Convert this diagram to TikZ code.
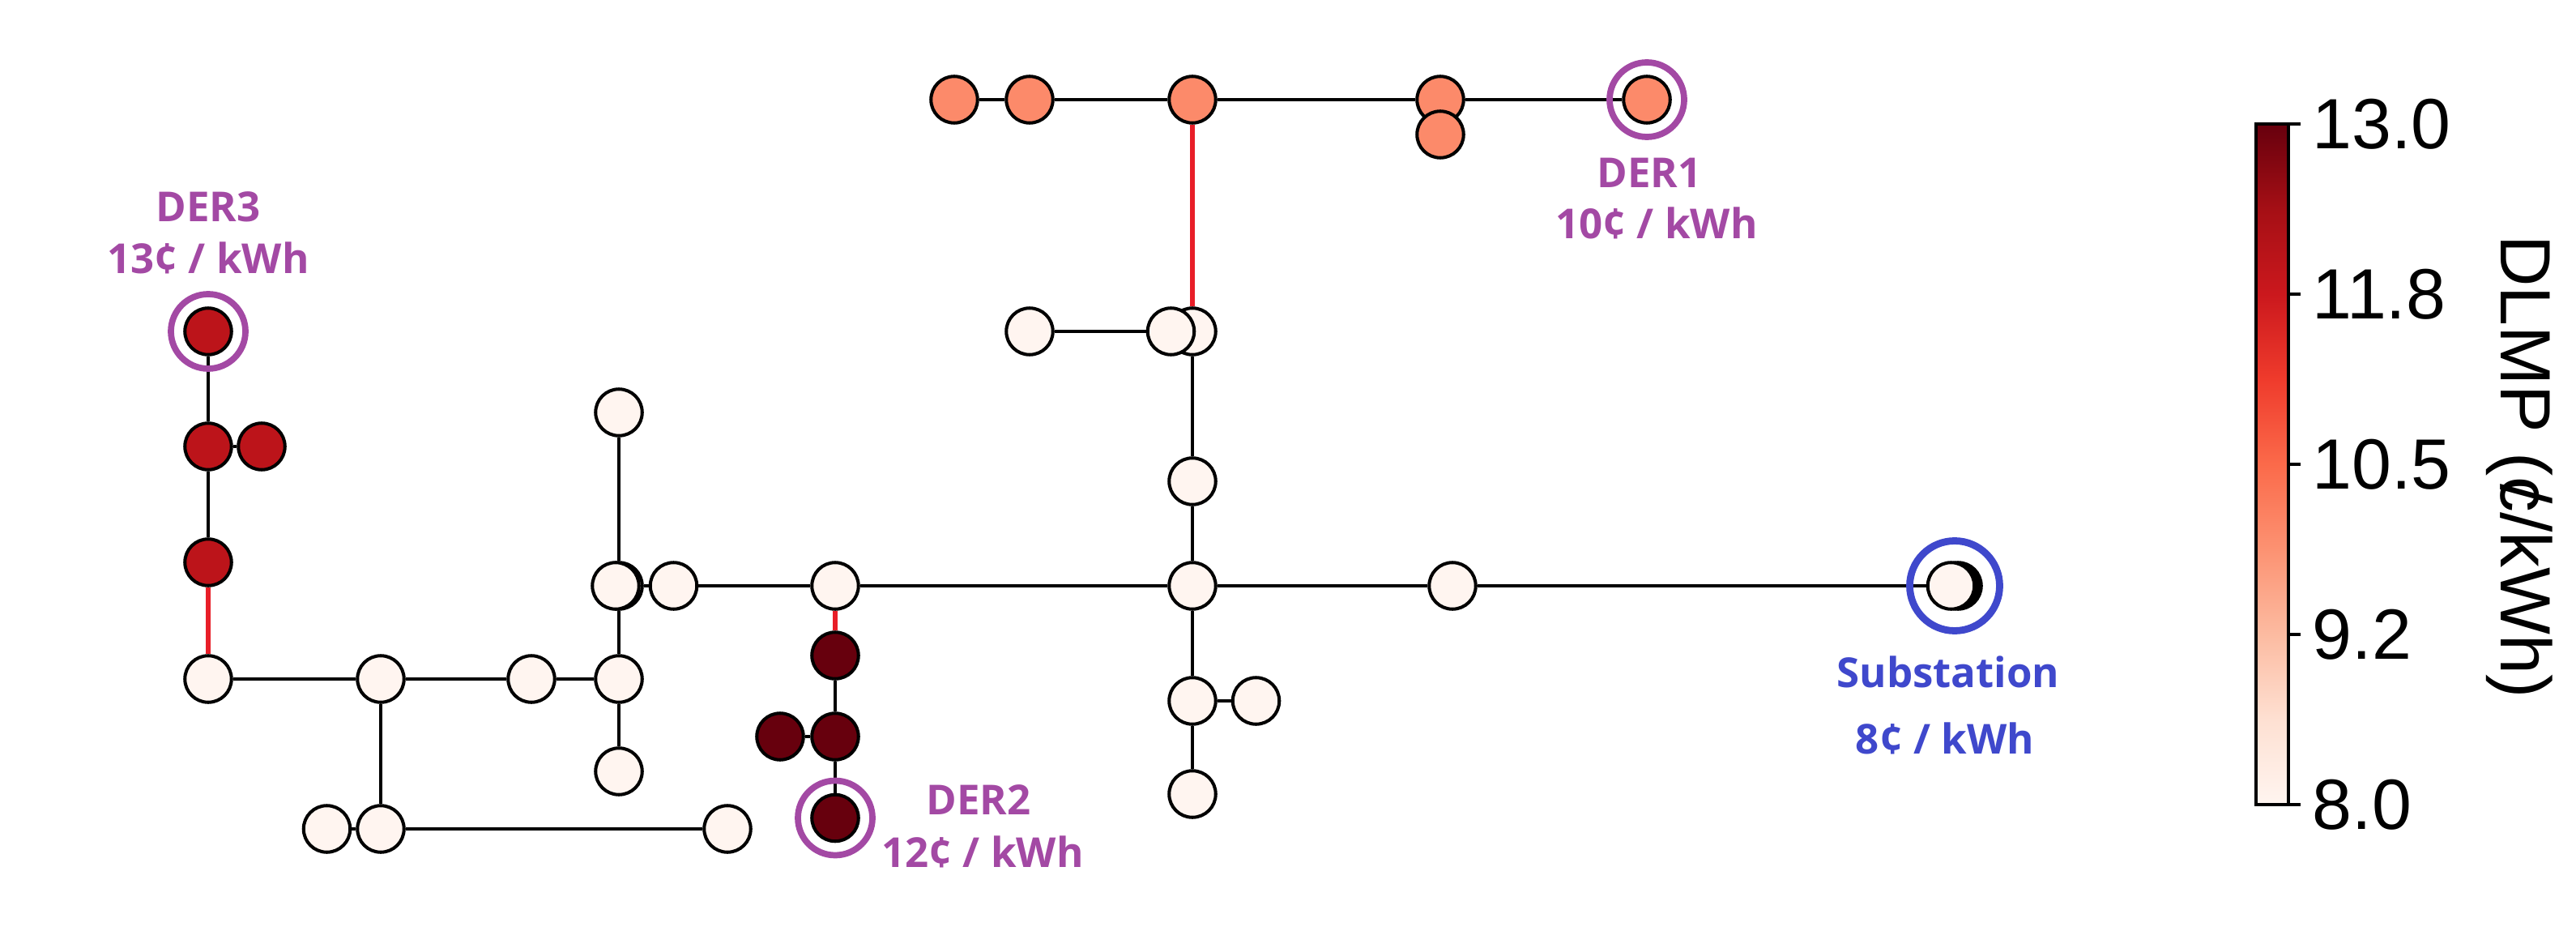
\documentclass[tikz,border=0pt]{standalone}
\usepackage{fontspec}
\setmainfont{Liberation Sans}
\newfontfamily\derfont{Open Sans}
\usetikzlibrary{backgrounds}
\usepackage{xcolor}

\definecolor{preco8}{RGB}{255,245,240}
\definecolor{preco10}{RGB}{252,138,106}
\definecolor{preco12}{RGB}{103,0,13}
\definecolor{preco13}{RGB}{188,20,26}
\definecolor{congest}{RGB}{232,30,40}
\definecolor{derroxo}{RGB}{163,73,164}
\definecolor{subazul}{RGB}{63,72,204}

% Reds colormap
\definecolor{reds0}{RGB}{255,245,240}
\definecolor{reds1}{RGB}{254,224,210}
\definecolor{reds2}{RGB}{252,187,161}
\definecolor{reds3}{RGB}{252,146,114}
\definecolor{reds4}{RGB}{251,106,74}
\definecolor{reds5}{RGB}{239,59,44}
\definecolor{reds6}{RGB}{203,24,29}
\definecolor{reds7}{RGB}{165,15,21}
\definecolor{reds8}{RGB}{103,0,13}
\pgfdeclareverticalshading{redsbar}{100bp}{
    color(0bp)=(reds0); color(25bp)=(reds0);
    color(31.25bp)=(reds1); color(37.5bp)=(reds2);
    color(43.75bp)=(reds3); color(50bp)=(reds4);
    color(56.25bp)=(reds5); color(62.5bp)=(reds6);
    color(68.75bp)=(reds7); color(75bp)=(reds8);
    color(100bp)=(reds8)}

\begin{document}
\begin{tikzpicture}[
    bus/.style={
        circle,
        draw=black,
        line width=1.15pt,
        inner sep=0pt,
        minimum size=0.575cm
    },
    linha/.style={
        draw=black,
        line width=1.15pt
    },
    congestionada/.style={
        draw=congest,
        line width=1.9pt
    },
    anel/.style={
        circle,
        draw=derroxo,
        line width=2.2pt,
        inner sep=0pt,
        minimum size=0.92cm
    },
    derlabel/.style={
        anchor=base,
        inner sep=0pt,
        text=derroxo,
        font=\derfont\bfseries\fontsize{14.5}{17}\selectfont
    },
    escala/.style={
        anchor=west,
        inner sep=0pt,
        font=\fontsize{25}{30}\selectfont
    }
]

\useasboundingbox (0,0) rectangle (31.8,11.48);

% ============================================================
% RAMO SUPERIOR (DER1)
% ============================================================

\node[bus, fill=preco10] (t1) at (11.78,10.25) {};
\node[bus, fill=preco10] (t2) at (12.71,10.25) {};
\node[bus, fill=preco10] (t3) at (14.72,10.25) {};
\node[bus, fill=preco10] (t4) at (17.78,10.25) {};
\node[bus, fill=preco10] (t4b) at (17.78,9.82) {};
\node[bus, fill=preco10] (der1) at (20.33,10.25) {};

\node[bus, fill=preco8] (m0) at (12.71,7.39) {};
\node[bus, fill=preco8] (m2) at (14.72,7.39) {};
\node[bus, fill=preco8] (m1) at (14.455,7.39) {};

\node[bus, fill=preco8] (v1) at (14.72,5.54) {};
\node[bus, fill=preco8] (v2) at (14.72,4.25) {};
\node[bus, fill=preco8] (v3) at (14.72,2.83) {};
\node[bus, fill=preco8] (v3b) at (15.505,2.83) {};
\node[bus, fill=preco8] (v4) at (14.72,1.68) {};

% ============================================================
% ALIMENTADOR PRINCIPAL
% ============================================================

\node[bus, fill=preco8] (a1b) at (7.64,4.25) {};
\node[bus, fill=preco8] (a1) at (7.60,4.25) {};
\node[bus, fill=preco8] (a2) at (8.315,4.25) {};
\node[bus, fill=preco8] (a3) at (10.31,4.25) {};
\node[bus, fill=preco8] (a4) at (17.93,4.25) {};
\node[bus, fill=black] (subb) at (24.17,4.25) {};
\node[bus, fill=preco8] (sub) at (24.085,4.25) {};

\node[bus, fill=preco8] (b0) at (7.64,6.39) {};
\node[bus, fill=preco8] (b1) at (7.64,3.10) {};
\node[bus, fill=preco8] (b2) at (7.64,1.96) {};

\node[bus, fill=preco8] (c1) at (2.57,3.10) {};
\node[bus, fill=preco8] (c2) at (4.70,3.10) {};
\node[bus, fill=preco8] (c3) at (6.56,3.10) {};

\node[bus, fill=preco8] (d1) at (4.035,1.25) {};
\node[bus, fill=preco8] (d2) at (4.70,1.25) {};
\node[bus, fill=preco8] (d3) at (8.98,1.25) {};

% ============================================================
% RAMOS DER3 E DER2
% ============================================================

\node[bus, fill=preco13] (der3) at (2.57,7.39) {};
\node[bus, fill=preco13] (e1) at (2.57,5.97) {};
\node[bus, fill=preco13] (e1b) at (3.23,5.97) {};
\node[bus, fill=preco13] (e2) at (2.57,4.54) {};

\node[bus, fill=preco12] (f1) at (10.31,3.39) {};
\node[bus, fill=preco12] (f2) at (10.31,2.39) {};
\node[bus, fill=preco12] (f2b) at (9.63,2.39) {};
\node[bus, fill=preco12] (der2) at (10.31,1.385) {};

% ============================================================
% LINHAS
% ============================================================

\begin{scope}[on background layer]
\draw[linha] (t1) -- (t2) -- (t3) -- (t4) -- (der1);
\draw[linha] (t4) -- (t4b);
\draw[linha] (m0) -- (m1);
\draw[linha] (m2) -- (v1) -- (v2) -- (v3) -- (v4);
\draw[linha] (v3) -- (v3b);
\draw[linha] (a1b) -- (a2) -- (a3) -- (v2) -- (a4) -- (sub);
\draw[linha] (b0) -- (a1b) -- (b1) -- (b2);
\draw[linha] (c1) -- (c2) -- (c3) -- (b1);
\draw[linha] (c2) -- (d2);
\draw[linha] (d1) -- (d2) -- (d3);
\draw[linha] (der3) -- (e1) -- (e2);
\draw[linha] (e1) -- (e1b);
\draw[linha] (f1) -- (f2) -- (der2);
\draw[linha] (f2) -- (f2b);

% Linhas congestionadas
\draw[congestionada] (t3) -- (m2);
\draw[congestionada] (e2) -- (c1);
\draw[congestionada] (a3) -- (f1);
\end{scope}

% ============================================================
% GERADORES E SUBESTACAO
% ============================================================

\node[anel] (der1ring) at (der1) {};
\node[anel] (der2ring) at (der2) {};
\node[anel] (der3ring) at (der3) {};
\node[
    anel,
    draw=subazul,
    line width=2.5pt,
    minimum size=1.11cm
] (subring) at (24.13,4.25) {};

\node[derlabel] (der1name) at (20.36,9.16) {DER1};
\node[derlabel] (der1price) at (20.45,8.53) {10¢ / kWh};

\node[derlabel] (der3name) at (2.57,8.74) {DER3};
\node[derlabel] (der3price) at (2.57,8.10) {13¢ / kWh};

\node[derlabel] (der2name) at (12.08,1.43) {DER2};
\node[derlabel] (der2price) at (12.13,0.78) {12¢ / kWh};

\node[derlabel, text=subazul] (subname) at (24.05,3.00) {Substation};
\node[derlabel, text=subazul] (subprice) at (24.01,2.18) {8¢ / kWh};

% ============================================================
% BARRA DE CORES
% ============================================================

\shade[shading=redsbar] (27.85,1.55) rectangle (28.25,9.95);
\draw[line width=1.1pt] (27.85,1.55) rectangle (28.25,9.95);

\foreach \val [count=\k from 0] in {8.0,9.2,10.5,11.8,13.0}{
    \draw[line width=1.1pt] (28.25,1.55+2.1*\k) -- (28.40,1.55+2.1*\k);
    \node[escala] (tick\k) at (28.54,1.55+2.1*\k) {\val};
}

\node[
    rotate=-90,
    anchor=base,
    inner sep=0pt,
    font=\fontsize{25}{30}\selectfont
] (cbtitle) at (30.87,5.72)
{DLMP ({\ooalign{c\cr\hidewidth/\hidewidth\cr}}/kWh)};

\end{tikzpicture}
\end{document}
